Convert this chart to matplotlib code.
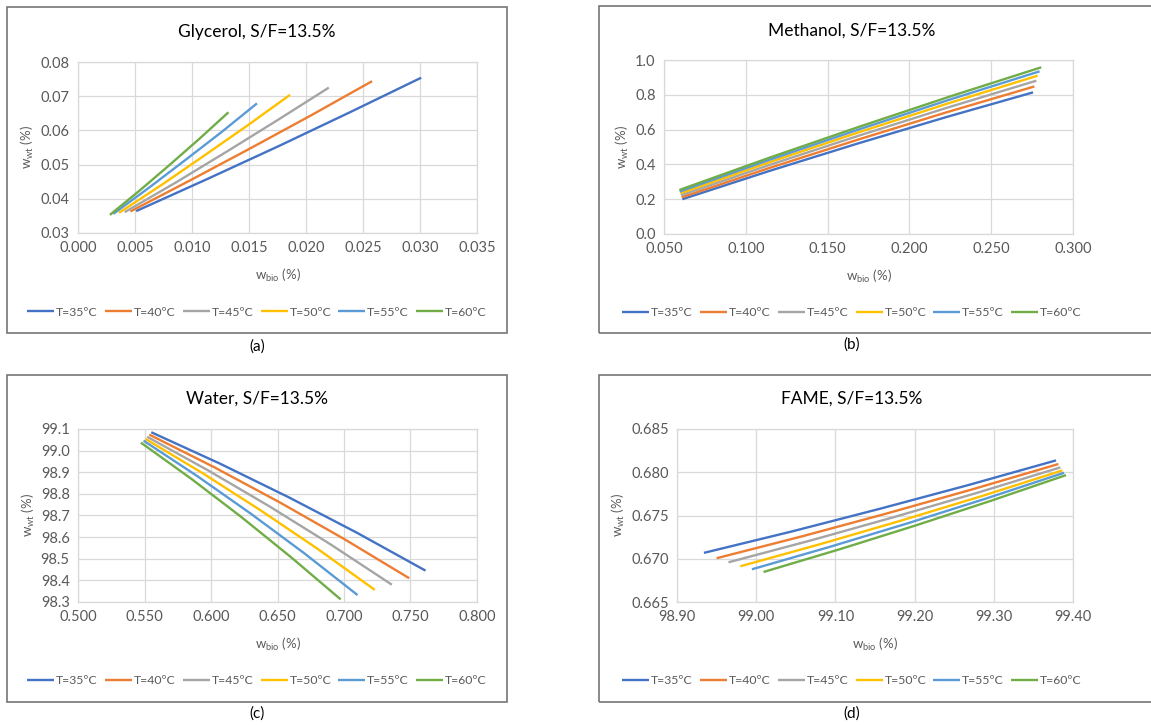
import matplotlib
matplotlib.use("Agg")
import matplotlib.pyplot as plt
from matplotlib.patches import Rectangle
from matplotlib.ticker import FormatStrFormatter

plt.rcParams['font.family'] = ['Lato', 'DejaVu Sans']

temps = ["T=35ºC", "T=40ºC", "T=45ºC", "T=50ºC", "T=55ºC", "T=60ºC"]
colors = ["#4472C4", "#ED7D31", "#A5A5A5", "#FFC000", "#5B9BD5", "#70AD47"]

# glycerol, one row per temperature
gly_x = [[0.0051, 0.01135, 0.0176, 0.02385, 0.0301],
         [0.0046, 0.0099, 0.0152, 0.0205, 0.0258],
         [0.0041, 0.0086, 0.01305, 0.0175, 0.0220],
         [0.0036, 0.00735, 0.0111, 0.01485, 0.0186],
         [0.0031, 0.00625, 0.0094, 0.01255, 0.0157],
         [0.0028, 0.0054, 0.0080, 0.0106, 0.0132]]
gly_y = [[0.0364, 0.0458, 0.0554, 0.0653, 0.0754],
         [0.0363, 0.0455, 0.0549, 0.0645, 0.0744],
         [0.0361, 0.0448, 0.0538, 0.0630, 0.0725],
         [0.0359, 0.0441, 0.0527, 0.0614, 0.0704],
         [0.0356, 0.0433, 0.0513, 0.0594, 0.0679],
         [0.0353, 0.0424, 0.0498, 0.0574, 0.0653]]

# methanol
met_x = [[0.0612, 0.1148, 0.1684, 0.2220, 0.2756],
         [0.0608, 0.1147, 0.1686, 0.2225, 0.2764],
         [0.0604, 0.1147, 0.1690, 0.2233, 0.2776],
         [0.0600, 0.1146, 0.1692, 0.2238, 0.2784],
         [0.0596, 0.1146, 0.1696, 0.2246, 0.2796],
         [0.0594, 0.1147, 0.1700, 0.2253, 0.2806]]
met_y = [[0.200, 0.3635, 0.520, 0.6705, 0.814],
         [0.211, 0.3803, 0.5425, 0.6988, 0.848],
         [0.223, 0.3975, 0.565, 0.7265, 0.881],
         [0.234, 0.413, 0.585, 0.751, 0.910],
         [0.244, 0.4268, 0.6025, 0.7723, 0.935],
         [0.253, 0.4393, 0.6185, 0.7918, 0.958]]

# water
wat_x = [[0.5551, 0.6067, 0.6582, 0.7098, 0.7613],
         [0.5536, 0.6025, 0.6513, 0.7002, 0.7490],
         [0.5520, 0.5980, 0.6440, 0.6900, 0.7360],
         [0.5508, 0.5939, 0.6370, 0.6801, 0.7232],
         [0.5493, 0.5895, 0.6298, 0.6700, 0.7102],
         [0.5473, 0.5849, 0.6224, 0.6600, 0.6975]]
wat_y = [[99.085, 98.940, 98.785, 98.620, 98.445],
         [99.074, 98.923, 98.762, 98.591, 98.410],
         [99.064, 98.908, 98.742, 98.566, 98.380],
         [99.054, 98.895, 98.725, 98.546, 98.356],
         [99.046, 98.883, 98.709, 98.526, 98.332],
         [99.037, 98.871, 98.695, 98.508, 98.312]]

# FAME
fam_x = [[98.934, 99.0452, 99.1563, 99.2675, 99.3786],
         [98.950, 99.0579, 99.1658, 99.2736, 99.3815],
         [98.965, 99.0698, 99.1745, 99.2793, 99.3840],
         [98.980, 99.0817, 99.1833, 99.2850, 99.3866],
         [98.9946, 99.0931, 99.1917, 99.2902, 99.3887],
         [99.0093, 99.1048, 99.2003, 99.2957, 99.3912]]
fam_y = [[0.67068, 0.67316, 0.67578, 0.67851, 0.68137],
         [0.67006, 0.67259, 0.67526, 0.67804, 0.68095],
         [0.66959, 0.67214, 0.67483, 0.67763, 0.68056],
         [0.66913, 0.67171, 0.67442, 0.67725, 0.68021],
         [0.66878, 0.67138, 0.67411, 0.67696, 0.67994],
         [0.66847, 0.67108, 0.67382, 0.67668, 0.67967]]

W, H = 1151, 725
fig = plt.figure(figsize=(W / 100, H / 100), dpi=100)


def fx(px):
    return px / W


def fy(py):
    return 1 - py / H


panels = [
    dict(title="Glycerol, S/F=13.5%", xs=gly_x, ys=gly_y, box=(7, 7, 507, 333),
         plot=(78, 62, 477, 233), xlim=(0, 0.035), xstep=0.005, ylim=(0.03, 0.08), ystep=0.01,
         xfmt="%.3f", yfmt="%.2f", tag="(a)", cx=257, ty=32, ly=312, sy=347),
    dict(title="Methanol, S/F=13.5%", xs=met_x, ys=met_y, box=(599, 6, 1153, 333),
         plot=(664, 60, 1073, 234), xlim=(0.05, 0.30), xstep=0.05, ylim=(0, 1.0), ystep=0.2,
         xfmt="%.3f", yfmt="%.1f", tag="(b)", cx=852, ty=31, ly=313, sy=345),
    dict(title="Water, S/F=13.5%", xs=wat_x, ys=wat_y, box=(7, 375, 507, 702),
         plot=(78, 429, 477, 602), xlim=(0.5, 0.8), xstep=0.05, ylim=(98.3, 99.1), ystep=0.1,
         xfmt="%.3f", yfmt="%.1f", tag="(c)", cx=257, ty=399, ly=681, sy=714),
    dict(title="FAME, S/F=13.5%", xs=fam_x, ys=fam_y, box=(599, 375, 1153, 702),
         plot=(677, 429, 1073, 602), xlim=(98.9, 99.4), xstep=0.1, ylim=(0.665, 0.685), ystep=0.005,
         xfmt="%.2f", yfmt="%.3f", tag="(d)", cx=852, ty=399, ly=681, sy=714),
]

for p in panels:
    x0, y0, x1, y1 = p["box"]
    fig.patches.append(Rectangle((fx(x0), fy(y1)), fx(x1 - x0), (y1 - y0) / H,
                                 transform=fig.transFigure, fill=False,
                                 edgecolor="#767676", linewidth=1.2))
    a0, b0, a1, b1 = p["plot"]
    ax = fig.add_axes([fx(a0), fy(b1), fx(a1 - a0), (b1 - b0) / H])
    lines = []
    for xs, ys, c, lab in zip(p["xs"], p["ys"], colors, temps):
        ln, = ax.plot(xs, ys, color=c, linewidth=1.7, label=lab, solid_capstyle="butt")
        lines.append(ln)
    ax.set_xlim(*p["xlim"])
    ax.set_ylim(*p["ylim"])
    n = round((p["xlim"][1] - p["xlim"][0]) / p["xstep"])
    ax.set_xticks([p["xlim"][0] + i * p["xstep"] for i in range(n + 1)])
    m = round((p["ylim"][1] - p["ylim"][0]) / p["ystep"])
    ax.set_yticks([p["ylim"][0] + i * p["ystep"] for i in range(m + 1)])
    ax.xaxis.set_major_formatter(FormatStrFormatter(p["xfmt"]))
    ax.yaxis.set_major_formatter(FormatStrFormatter(p["yfmt"]))
    ax.grid(True, color="#D9D9D9", linewidth=0.9)
    ax.set_axisbelow(True)
    for s in ax.spines.values():
        s.set_color("#D9D9D9")
        s.set_linewidth(0.9)
    ax.tick_params(length=0, labelsize=10.5, colors="#595959", pad=6)
    ax.set_xlabel(r"w$_{\mathregular{bio}}$ (%)", fontsize=9.5, color="#595959", labelpad=8)
    ax.set_ylabel(r"w$_{\mathregular{wt}}$ (%)", fontsize=9.5, color="#595959", labelpad=3)
    fig.text(fx(p["cx"]), fy(p["ty"]), p["title"], ha="center", va="center",
             fontsize=12.5, color="#000000")
    fig.legend(lines, temps, loc="center", bbox_to_anchor=(fx(p["cx"]), fy(p["ly"])),
               ncol=6, frameon=False, fontsize=8.8, handlelength=2.2, handletextpad=0.15,
               columnspacing=0.6, labelcolor="#595959")
    fig.text(fx(p["cx"]), fy(p["sy"]), p["tag"], ha="center", va="center",
             fontsize=11, color="#000000")

fig.savefig("out.png", dpi=100)
